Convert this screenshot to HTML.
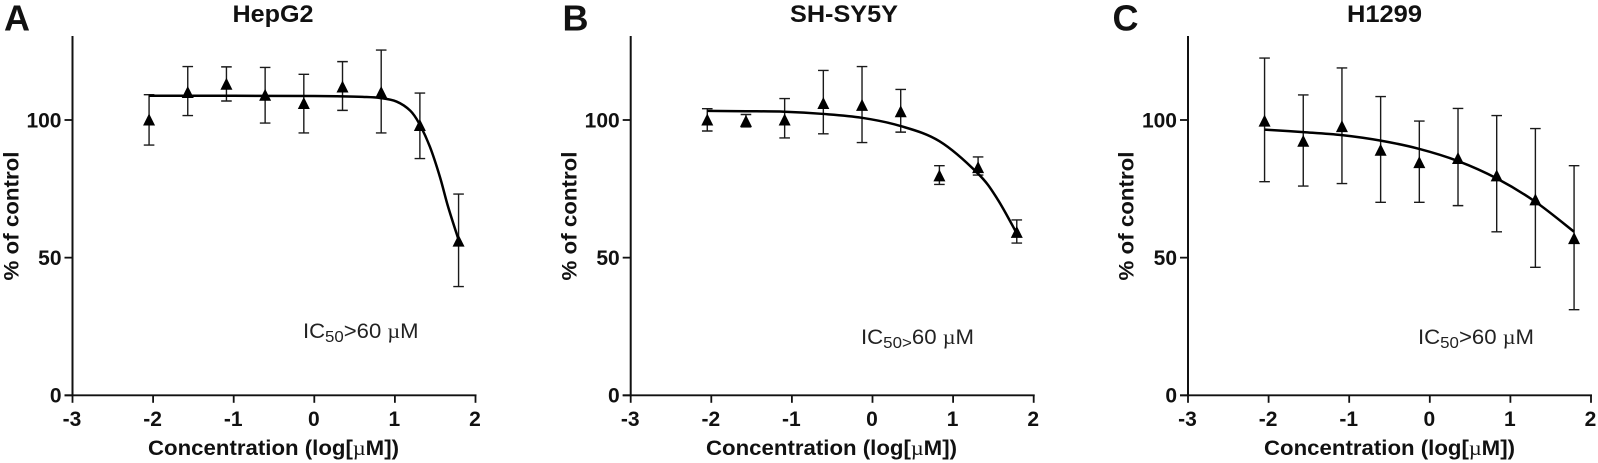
<!DOCTYPE html>
<html>
<head>
<meta charset="utf-8">
<title>Dose-response curves</title>
<style>
html,body{margin:0;padding:0;background:#fff;width:1598px;height:463px;overflow:hidden}
svg{display:block;font-family:"Liberation Sans",sans-serif;fill:#111;filter:blur(0.35px)}
.bold{font-weight:700}
.mu{font-family:"Liberation Serif",serif;font-weight:400}
</style>
</head>
<body>
<svg id="figure" width="1598" height="463" viewBox="0 0 1598 463" xmlns="http://www.w3.org/2000/svg">
  <rect width="1598" height="463" fill="#fff"/>

  <text class="bold" x="4" y="30.7" font-size="36">A</text>
  <text class="bold" x="562.5" y="30.7" font-size="36">B</text>
  <text class="bold" x="1112.5" y="30.7" font-size="36">C</text>

  <text class="bold" x="232.5" y="22" font-size="24" textLength="81" lengthAdjust="spacingAndGlyphs">HepG2</text>
  <text class="bold" x="790" y="22" font-size="24" textLength="108" lengthAdjust="spacingAndGlyphs">SH-SY5Y</text>
  <text class="bold" x="1347" y="22" font-size="24" textLength="75" lengthAdjust="spacingAndGlyphs">H1299</text>

  <text class="bold" transform="translate(18.3,280.5) rotate(-90)" font-size="21" textLength="129" lengthAdjust="spacingAndGlyphs">% of control</text>
  <text class="bold" transform="translate(576.3,280.5) rotate(-90)" font-size="21" textLength="129" lengthAdjust="spacingAndGlyphs">% of control</text>
  <text class="bold" transform="translate(1133.3,280.5) rotate(-90)" font-size="21" textLength="129" lengthAdjust="spacingAndGlyphs">% of control</text>

  <text class="bold" x="148" y="455" font-size="21" textLength="251" lengthAdjust="spacingAndGlyphs">Concentration (log[<tspan class="mu">µ</tspan>M])</text>
  <text class="bold" x="706" y="455" font-size="21" textLength="251" lengthAdjust="spacingAndGlyphs">Concentration (log[<tspan class="mu">µ</tspan>M])</text>
  <text class="bold" x="1264" y="455" font-size="21" textLength="251" lengthAdjust="spacingAndGlyphs">Concentration (log[<tspan class="mu">µ</tspan>M])</text>

  <text x="303" y="338" font-size="21" fill="#222" textLength="115.5" lengthAdjust="spacingAndGlyphs">IC<tspan font-size="16" dy="4">50</tspan><tspan dy="-4">&gt;60 </tspan><tspan class="mu">µ</tspan>M</text>
  <text x="861" y="344" font-size="21" fill="#222" textLength="113" lengthAdjust="spacingAndGlyphs">IC<tspan font-size="16" dy="4">50&gt;</tspan><tspan dy="-4">60 </tspan><tspan class="mu">µ</tspan>M</text>
  <text x="1418" y="344" font-size="21" fill="#222" textLength="116" lengthAdjust="spacingAndGlyphs">IC<tspan font-size="16" dy="4">50</tspan><tspan dy="-4">&gt;60 </tspan><tspan class="mu">µ</tspan>M</text>

  <g id="plots"></g>
</svg>

<script>
// Shared axes and concentrations
const xTicks = [-3, -2, -1, 0, 1, 2];
const yTicks = [0, 50, 100];
const concentrations = [-2.05, -1.57, -1.09, -0.61, -0.13, 0.35, 0.83, 1.31, 1.79];

// HepG2
const hepg2Means = [100, 110, 113, 109, 106, 112, 110, 98, 56];
const hepg2Upper = [109.2, 119.4, 119.3, 119.1, 116.6, 121.2, 125.4, 109.8, 73.1];
const hepg2Lower = [90.9, 101.6, 106.9, 98.9, 95.3, 103.5, 95.3, 86, 39.5];
const hepg2CurveX = [-2.05, -1, 0, 0.35, 0.6, 0.815, 1.02, 1.19, 1.3, 1.434, 1.558, 1.66, 1.79];
const hepg2CurveY = [108.8, 108.8, 108.7, 108.6, 108.4, 108, 106.7, 103.4, 98.8, 90.3, 79.4, 68.5, 56.5];

// SH-SY5Y
const shsy5yMeans = [100, 99.5, 100, 106, 105.3, 103, 79.7, 82.7, 59.2];
const shsy5yUpper = [104.1, 102, 107.8, 118, 119.4, 111.1, 83.4, 86.6, 63.7];
const shsy5yLower = [96, 97.5, 93.5, 95, 91.8, 95.6, 76.6, 80, 55.3];
const shsy5yCurveX = [-2.05, -1.57, -1.09, -0.61, -0.13, 0.35, 0.83, 1.31, 1.55, 1.79];
const shsy5yCurveY = [103.3, 103.2, 103, 102.2, 100.8, 97.8, 92.3, 80.5, 71.3, 58.8];

// H1299
const h1299Means = [99.6, 92.3, 97.6, 89, 84.5, 86, 79.7, 71, 56.9];
const h1299Upper = [122.5, 109.1, 118.9, 108.5, 99.6, 104.2, 101.6, 96.9, 83.4];
const h1299Lower = [77.6, 76, 76.9, 70.1, 70.1, 68.9, 59.4, 46.5, 31.1];
const h1299CurveX = [-2.05, -1.57, -1.09, -0.61, -0.13, 0.35, 0.83, 1.31, 1.79];
const h1299CurveY = [96.5, 95.6, 94.5, 92.5, 89.5, 85.1, 78.8, 70.3, 59.4];

const SVG_NS = 'http://www.w3.org/2000/svg';
const plots = document.getElementById('plots');

function make(tag, parent, props) {
  const el = document.createElementNS(SVG_NS, tag);
  for (const k in props) el.setAttribute(k, props[k]);
  parent.appendChild(el);
  return el;
}

function smoothPath(pts) {
  let d = 'M' + pts[0][0].toFixed(2) + ' ' + pts[0][1].toFixed(2);
  for (let i = 0; i < pts.length - 1; i++) {
    const p0 = pts[Math.max(0, i - 1)];
    const p1 = pts[i];
    const p2 = pts[i + 1];
    const p3 = pts[Math.min(pts.length - 1, i + 2)];
    const c1x = p1[0] + (p2[0] - p0[0]) / 6;
    const c1y = p1[1] + (p2[1] - p0[1]) / 6;
    const c2x = p2[0] - (p3[0] - p1[0]) / 6;
    const c2y = p2[1] - (p3[1] - p1[1]) / 6;
    d += 'C' + c1x.toFixed(2) + ' ' + c1y.toFixed(2) + ' ' + c2x.toFixed(2) + ' ' + c2y.toFixed(2) + ' ' + p2[0].toFixed(2) + ' ' + p2[1].toFixed(2);
  }
  return d;
}

function drawPanel(name, originX, means, upper, lower, curveX, curveY) {
  const xScale = v => originX + (v + 3) * 80.6;
  const yScale = v => 395.3 - v * 2.753;
  const group = make('g', plots, {});
  
  

  // axes
  const yAxis = make('line', group, {x1: xScale(-3), x2: xScale(-3), y1: yScale(130.5), y2: yScale(0) + 1, stroke: '#111', 'stroke-width': 2});
  
  
  const xAxis = make('line', group, {x1: xScale(-3) - 8, x2: xScale(2) + 1, y1: yScale(0), y2: yScale(0), stroke: '#111', 'stroke-width': 1.8});
  
  

  xTicks.forEach(t => {
    const tick = make('line', group, {x1: xScale(t), x2: xScale(t), y1: yScale(0), y2: yScale(0) + 7.5, stroke: '#111', 'stroke-width': 1.8});
    
    
    const label = make('text', group, {x: xScale(t) - 0.5, y: 426, 'text-anchor': 'middle', 'font-size': 21, 'font-weight': 700});
    
    
    label.textContent = String(t);
  });

  yTicks.forEach(t => {
    const tick = make('line', group, {x1: xScale(-3) - 8, x2: xScale(-3), y1: yScale(t), y2: yScale(t), stroke: '#111', 'stroke-width': 1.8});
    
    
    const label = make('text', group, {x: xScale(-3) - 11, y: yScale(t) + 7.3, 'text-anchor': 'end', 'font-size': 21, 'font-weight': 700});
    
    
    label.textContent = String(t);
  });

  // error bars
  concentrations.forEach((c, i) => {
    const x = xScale(c);
    const bar = make('path', group, {
      d: 'M' + x + ' ' + yScale(upper[i]) + 'V' + yScale(lower[i]) +
         'M' + (x - 5.3) + ' ' + yScale(upper[i]) + 'H' + (x + 5.3) +
         'M' + (x - 5.3) + ' ' + yScale(lower[i]) + 'H' + (x + 5.3),
      stroke: '#1a1a1a', 'stroke-width': 1.4, fill: 'none'
    });
    
    
  });

  // fitted curve
  const curve = make('path', group, {
    d: smoothPath(curveX.map((v, i) => [xScale(v), yScale(curveY[i])])),
    stroke: '#000', 'stroke-width': 2.5, fill: 'none'
  });
  
  

  // mean markers
  concentrations.forEach((c, i) => {
    const x = xScale(c);
    const y = yScale(means[i]);
    const marker = make('path', group, {
      d: 'M' + x + ' ' + (y - 6.5) + 'L' + (x + 6) + ' ' + (y + 5.5) + 'L' + (x - 6) + ' ' + (y + 5.5) + 'Z',
      fill: '#000'
    });
    
    
  });
}

drawPanel('hepg2', 72.5, hepg2Means, hepg2Upper, hepg2Lower, hepg2CurveX, hepg2CurveY);
drawPanel('sh-sy5y', 630.7, shsy5yMeans, shsy5yUpper, shsy5yLower, shsy5yCurveX, shsy5yCurveY);
drawPanel('h1299', 1188, h1299Means, h1299Upper, h1299Lower, h1299CurveX, h1299CurveY);
</script>
</body>
</html>
